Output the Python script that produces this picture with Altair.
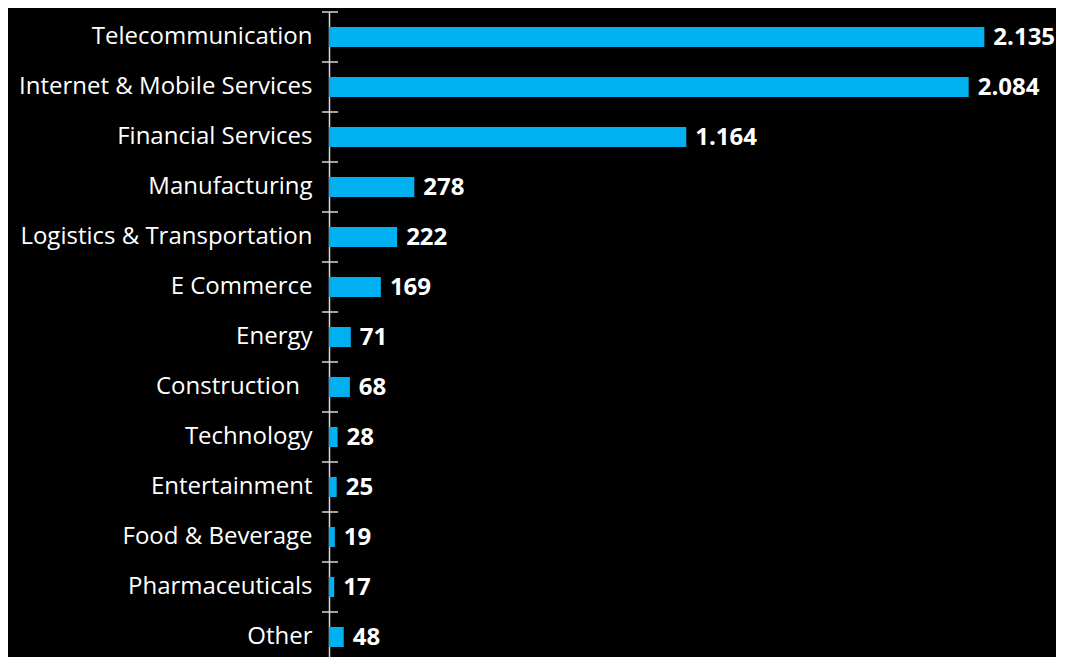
import altair as alt
import pandas as pd

categories = [
    "Telecommunication",
    "Internet & Mobile Services",
    "Financial Services",
    "Manufacturing",
    "Logistics & Transportation",
    "E Commerce",
    "Energy",
    "Construction\u00a0\u00a0\u200b",
    "Technology",
    "Entertainment",
    "Food & Beverage",
    "Pharmaceuticals",
    "Other",
]
values = [2135, 2084, 1164, 278, 222, 169, 71, 68, 28, 25, 19, 17, 48]

df = pd.DataFrame({"cat": categories, "value": values})
df["label"] = [f"{v:,}".replace(",", ".") for v in values]

y_enc = alt.Y(
    "cat:N",
    sort=categories,
    scale=alt.Scale(paddingInner=0, paddingOuter=0),
    axis=alt.Axis(
        title=None,
        labelColor="white",
        labelFont="Open Sans",
        labelFontSize=24,
        labelPadding=17,
        ticks=False,
        tickSize=0,
        domainColor="#D9D9D9",
        domainWidth=1.5,
        minExtent=321,
        maxExtent=321,
        labelLimit=400,
    ),
)
x_enc = alt.X("value:Q", scale=alt.Scale(domain=[0, 2300], nice=False), axis=None)

base = alt.Chart(df)

bars = base.mark_bar(size=20, color="#00B0F0").encode(x=x_enc, y=y_enc)

texts = base.mark_text(
    align="left",
    baseline="middle",
    dx=9,
    dy=1,
    fontWeight="bold",
    fontSize=24,
    color="white",
    font="Open Sans",
).encode(x=x_enc, y=y_enc, text="label:N")

ticks = base.mark_rule(color="#D9D9D9", strokeWidth=1.5).encode(
    y=alt.Y("cat:N", sort=categories, bandPosition=0),
    x=alt.value(-7),
    x2=alt.value(9),
)

chart = (
    alt.layer(bars, texts, ticks)
    .properties(
        width=706,
        height=650,
        background="black",
        padding={"left": 0, "top": 3, "right": 0, "bottom": 0},
    )
    .configure_view(stroke=None)
)

chart.save("out.html", embed_options={"renderer": "svg", "actions": False})
